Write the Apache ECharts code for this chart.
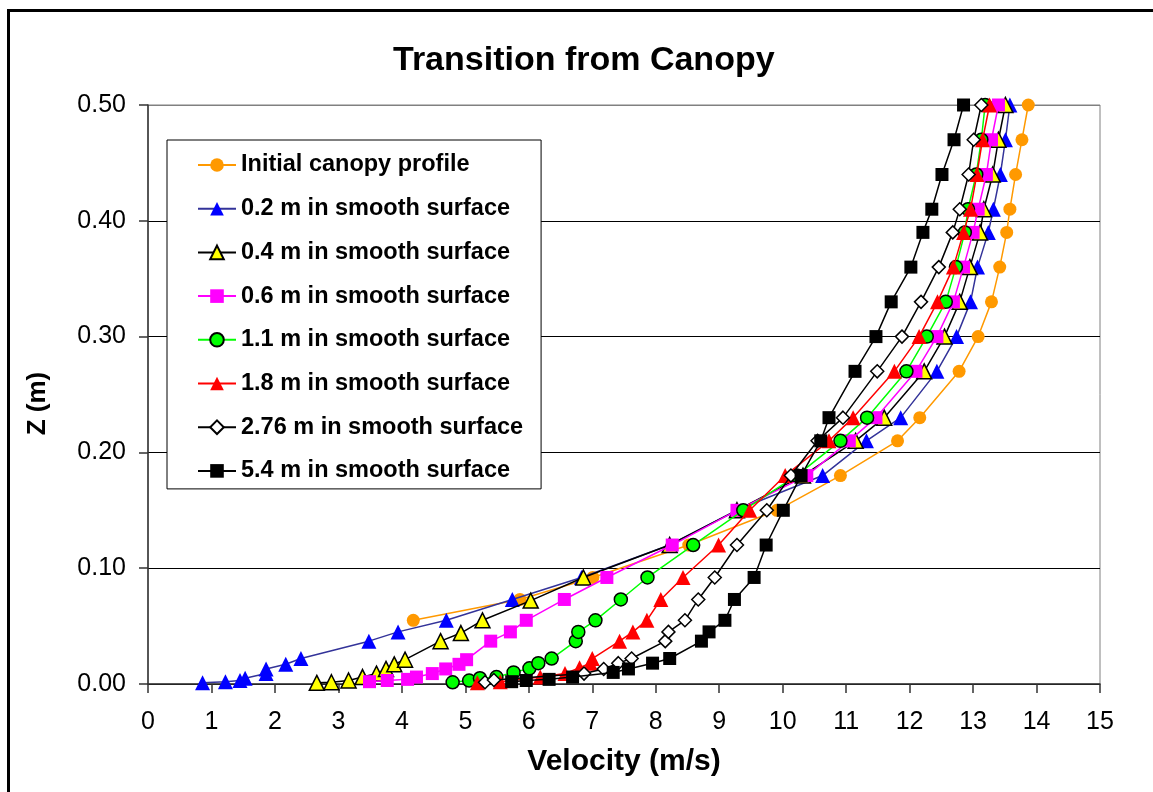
<!DOCTYPE html>
<html>
<head>
<meta charset="utf-8">
<title>Transition from Canopy</title>
<script src="https://cdn.jsdelivr.net/npm/echarts@6/dist/echarts.min.js"></script>
<style>
  html, body { margin: 0; padding: 0; background: #fff; }
  #chart { width: 1153px; height: 792px; }
</style>
</head>
<body>
<div id="chart"></div>
<script>
// Velocity profiles [velocity m/s, height z m] for each downstream station
const initialCanopy = [
  [4.18, 0.055], [5.86, 0.073], [7.01, 0.092], [8.52, 0.12], [9.91, 0.15], [10.91, 0.18],
  [11.81, 0.21], [12.16, 0.23], [12.78, 0.27], [13.08, 0.30], [13.29, 0.33], [13.42, 0.36],
  [13.53, 0.39], [13.58, 0.41], [13.67, 0.44], [13.77, 0.47], [13.87, 0.50]
];
const smooth02 = [
  [0.86, 0.001], [1.22, 0.002], [1.45, 0.003], [1.53, 0.005], [1.86, 0.009], [1.86, 0.013],
  [2.17, 0.017], [2.41, 0.022], [3.48, 0.037], [3.94, 0.045], [4.70, 0.055], [5.74, 0.073],
  [6.83, 0.092], [8.22, 0.12], [9.27, 0.15], [10.63, 0.18], [11.32, 0.21], [11.86, 0.23],
  [12.43, 0.27], [12.74, 0.30], [12.96, 0.33], [13.07, 0.36], [13.24, 0.39], [13.32, 0.41],
  [13.43, 0.44], [13.51, 0.47], [13.58, 0.50]
];
const smooth04 = [
  [2.66, 0.001], [2.89, 0.0015], [3.16, 0.003], [3.38, 0.006], [3.60, 0.009], [3.75, 0.013],
  [3.88, 0.017], [4.05, 0.021], [4.61, 0.037], [4.93, 0.044], [5.27, 0.055], [6.03, 0.072],
  [6.86, 0.092], [8.22, 0.12], [9.28, 0.15], [10.32, 0.18], [11.15, 0.21], [11.60, 0.23],
  [12.23, 0.27], [12.55, 0.30], [12.79, 0.33], [12.95, 0.36], [13.11, 0.39], [13.17, 0.41],
  [13.31, 0.44], [13.40, 0.47], [13.51, 0.50]
];
const smooth06 = [
  [3.49, 0.002], [3.77, 0.003], [4.09, 0.004], [4.23, 0.006], [4.48, 0.009], [4.69, 0.013],
  [4.90, 0.017], [5.02, 0.021], [5.40, 0.037], [5.71, 0.045], [5.96, 0.055], [6.56, 0.073],
  [7.23, 0.092], [8.26, 0.12], [9.28, 0.15], [10.38, 0.18], [11.05, 0.21], [11.47, 0.23],
  [12.10, 0.27], [12.43, 0.30], [12.69, 0.33], [12.85, 0.36], [13.00, 0.39], [13.08, 0.41],
  [13.21, 0.44], [13.29, 0.47], [13.40, 0.50]
];
const smooth11 = [
  [4.80, 0.0015], [5.06, 0.003], [5.23, 0.005], [5.49, 0.006], [5.76, 0.010], [6.01, 0.0135],
  [6.15, 0.018], [6.36, 0.022], [6.74, 0.037], [6.78, 0.045], [7.05, 0.055], [7.45, 0.073],
  [7.87, 0.092], [8.59, 0.12], [9.38, 0.15], [10.22, 0.18], [10.91, 0.21], [11.33, 0.23],
  [11.95, 0.27], [12.27, 0.30], [12.57, 0.33], [12.73, 0.36], [12.87, 0.39], [12.92, 0.41],
  [13.05, 0.44], [13.13, 0.47], [13.19, 0.50]
];
const smooth18 = [
  [5.19, 0.001], [5.55, 0.002], [6.18, 0.006], [6.57, 0.009], [6.80, 0.014], [6.97, 0.018],
  [7.00, 0.022], [7.43, 0.037], [7.64, 0.045], [7.86, 0.055], [8.08, 0.073], [8.43, 0.092],
  [8.99, 0.12], [9.48, 0.15], [10.04, 0.18], [10.73, 0.21], [11.11, 0.23], [11.76, 0.27],
  [12.15, 0.30], [12.44, 0.33], [12.69, 0.36], [12.85, 0.39], [12.96, 0.41], [13.06, 0.44],
  [13.15, 0.47], [13.26, 0.50]
];
const smooth276 = [
  [5.31, 0.0015], [5.45, 0.0035], [6.87, 0.009], [7.18, 0.013], [7.41, 0.018], [7.62, 0.022],
  [8.15, 0.037], [8.20, 0.045], [8.46, 0.055], [8.67, 0.073], [8.93, 0.092], [9.28, 0.12],
  [9.75, 0.15], [10.13, 0.18], [10.55, 0.21], [10.95, 0.23], [11.49, 0.27], [11.88, 0.30],
  [12.18, 0.33], [12.46, 0.36], [12.68, 0.39], [12.79, 0.41], [12.93, 0.44], [13.01, 0.47],
  [13.13, 0.50]
];
const smooth54 = [
  [5.73, 0.002], [5.96, 0.003], [6.32, 0.004], [6.69, 0.006], [7.33, 0.010], [7.57, 0.013],
  [7.95, 0.018], [8.22, 0.022], [8.72, 0.037], [8.84, 0.045], [9.09, 0.055], [9.24, 0.073],
  [9.55, 0.092], [9.74, 0.12], [10.01, 0.15], [10.29, 0.18], [10.60, 0.21], [10.73, 0.23],
  [11.14, 0.27], [11.47, 0.30], [11.71, 0.33], [12.02, 0.36], [12.21, 0.39], [12.35, 0.41],
  [12.51, 0.44], [12.70, 0.47], [12.85, 0.50]
];

const seriesNames = [
  'Initial canopy profile',
  '0.2 m in smooth surface',
  '0.4 m in smooth surface',
  '0.6 m in smooth surface',
  '1.1 m in smooth surface',
  '1.8 m in smooth surface',
  '2.76 m in smooth surface',
  '5.4 m in smooth surface'
];
const seriesData = [initialCanopy, smooth02, smooth04, smooth06, smooth11, smooth18, smooth276, smooth54];

const FONT = '"Liberation Sans", Arial, Helvetica, sans-serif';

// marker / line styling per series
const styles = [
  { symbol: 'circle',   size: 13, fill: '#FF9900', border: null,   line: '#FF9900' },
  { symbol: 'triangle', size: 15, fill: '#0000FF', border: null,   line: '#333399' },
  { symbol: 'triangle', size: 15, fill: '#FFFF00', border: '#000', line: '#000000' },
  { symbol: 'rect',     size: 13, fill: '#FF00FF', border: null,   line: '#FF00FF' },
  { symbol: 'circle',   size: 13, fill: '#00FF00', border: '#000', line: '#00FF00' },
  { symbol: 'triangle', size: 15, fill: '#FF0000', border: null,   line: '#FF0000' },
  { symbol: 'diamond',  size: 13, fill: '#FFFFFF', border: '#000', line: '#000000' },
  { symbol: 'rect',     size: 13, fill: '#000000', border: null,   line: '#000000' }
];

const series = seriesNames.map((name, i) => {
  const s = styles[i];
  return {
    name: name,
    type: 'line',
    data: seriesData[i],
    symbol: s.symbol,
    symbolSize: s.size,
    showAllSymbol: true,
    lineStyle: { color: s.line, width: 1.5 },
    itemStyle: {
      color: s.fill,
      borderColor: s.border || s.fill,
      borderWidth: s.border ? 1.5 : 0
    },
    emphasis: { disabled: true },
    z: 2 + i
  };
});

const chart = echarts.init(document.getElementById('chart'), null, { renderer: 'canvas' });
chart.setOption({
  animation: false,
  backgroundColor: '#ffffff',
  textStyle: { fontFamily: FONT },
  title: {
    text: 'Transition from Canopy',
    left: 393,
    top: 44,
    padding: 0,
    textStyle: { fontFamily: FONT, fontSize: 34, fontWeight: 'bold', color: '#000' }
  },
  graphic: [{
    type: 'rect',
    left: 6, top: 8,
    shape: { width: 1170, height: 810 },
    style: { fill: null, stroke: '#000', lineWidth: 3 },
    silent: true
  }],
  legend: {
    orient: 'vertical',
    left: 167,
    top: 140,
    padding: [13, 18, 6, 30],
    itemWidth: 38,
    itemHeight: 17,
    itemGap: 19.7,
    borderColor: '#000',
    borderWidth: 1,
    backgroundColor: '#fff',
    textStyle: { fontFamily: FONT, fontSize: 23.5, fontWeight: 'bold', color: '#000', lineHeight: 24 },
    data: seriesNames
  },
  grid: {
    left: 148, right: 53, top: 105, bottom: 108,
    show: true,
    borderColor: '#808080',
    borderWidth: 1,
    backgroundColor: '#fff'
  },
  xAxis: {
    type: 'value',
    min: 0, max: 15, interval: 1,
    name: 'Velocity (m/s)',
    nameLocation: 'middle',
    nameGap: 63,
    nameTextStyle: { fontFamily: FONT, fontSize: 30, fontWeight: 'bold', color: '#000' },
    axisLine: { onZero: false, lineStyle: { color: '#333', width: 1.5 } },
    axisTick: { inside: false, length: 9, lineStyle: { color: '#333', width: 1.5 } },
    axisLabel: { margin: 26, fontFamily: FONT, fontSize: 25, color: '#000' },
    splitLine: { show: false }
  },
  yAxis: {
    type: 'value',
    min: 0, max: 0.5, interval: 0.1,
    name: 'Z (m)',
    nameLocation: 'middle',
    nameGap: 97,
    nameRotate: 90,
    nameTextStyle: { fontFamily: FONT, fontSize: 26, fontWeight: 'bold', color: '#000', padding: [0, 18, 0, 0] },
    axisLine: { show: true, onZero: false, lineStyle: { color: '#333', width: 1.5 } },
    axisTick: { show: true, inside: false, length: 9, lineStyle: { color: '#333', width: 1.5 } },
    axisLabel: { margin: 22, fontFamily: FONT, fontSize: 25, color: '#000', formatter: v => v.toFixed(2) },
    splitLine: { show: true, lineStyle: { color: ['#000', '#000', '#000', '#000', '#000', '#808080'], width: 1 } }
  },
  series: series
});
</script>
</body>
</html>
